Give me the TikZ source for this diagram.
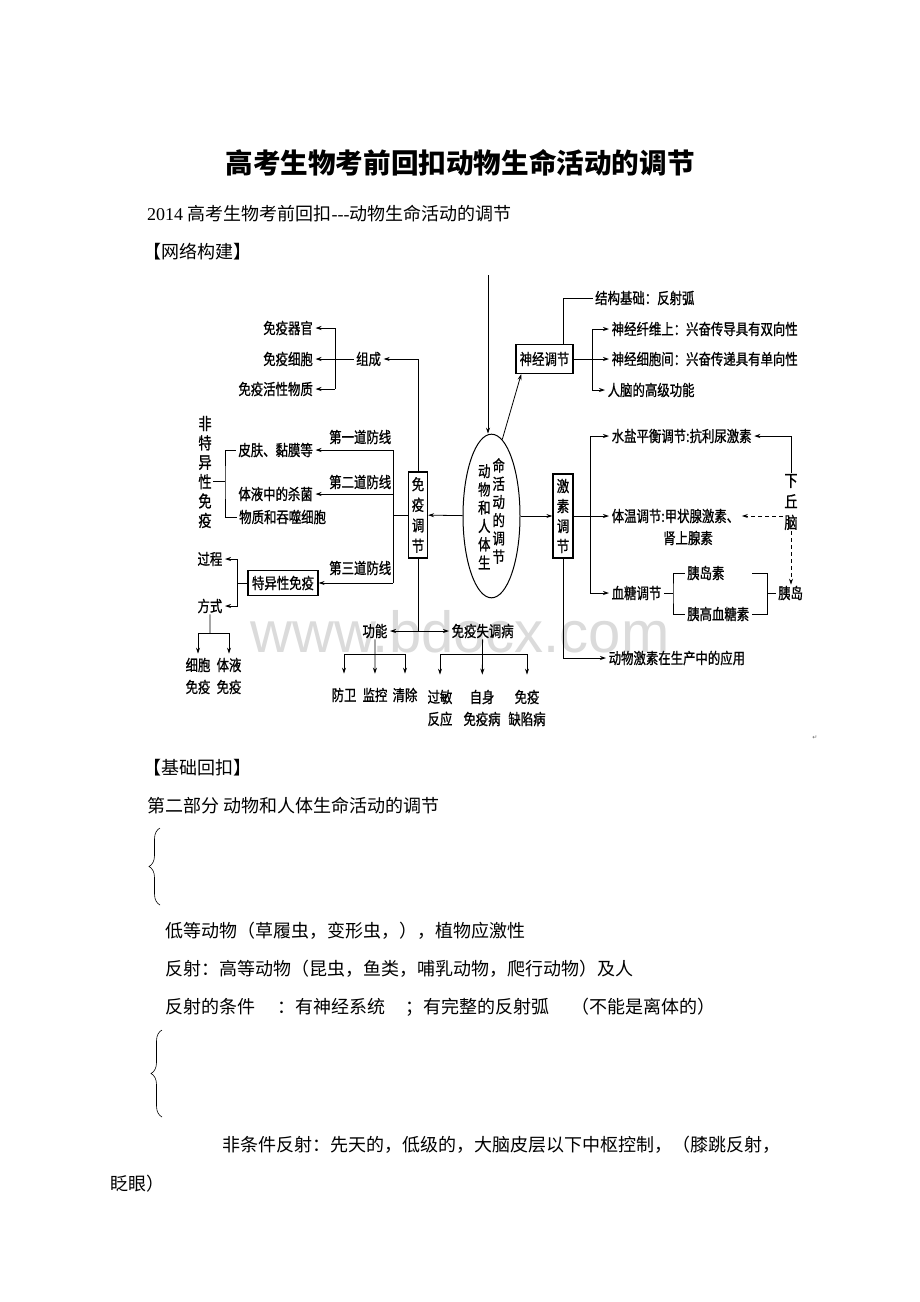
\documentclass[tikz,border=0pt]{standalone}
\usepackage{fontspec}
\setmainfont{Liberation Serif}
\newfontfamily\cjk{Noto Sans CJK SC}
\newfontfamily\dgf[FakeStretch=0.8,FakeBold=0.9]{Noto Sans CJK SC}
\newfontfamily\wmf{Liberation Sans}
\newfontfamily\djv{DejaVu Sans}
\usetikzlibrary{arrows.meta,shapes.geometric,decorations.pathreplacing,calc}
\tikzset{
  dg/.style={font=\dgf\fontsize{15.5}{18}\selectfont, inner xsep=2.5pt, inner ysep=1pt},
  dgm/.style={font=\dgf\fontsize{15.5}{22}\selectfont, inner xsep=2.5pt, inner ysep=1pt, align=center},
  bt/.style={font=\cjk\fontsize{18}{22}\selectfont, inner sep=0pt, anchor=west},
  bx/.style={draw, line width=1.2pt, inner sep=0pt, align=center},
  ln/.style={line width=0.8pt},
  ar/.style={ln, -{Stealth[length=6pt,width=4pt]}},
  da/.style={ar, dash pattern=on 4pt off 3pt},
  brc/.style={decorate, decoration={brace, amplitude=11pt}, line width=0.6pt},
}
\begin{document}
\begin{tikzpicture}[x=1pt,y=-1pt]
\useasboundingbox (0,0) rectangle (920,1302);
\fill[white] (0,0) rectangle (920,1302);

% watermark
\node[font=\wmf\fontsize{58}{60}\selectfont, text=black!14, inner sep=0pt] (wm) at (460,632) {www.bdocx.com};

% page text
\node[font=\cjk\bfseries\fontsize{27.6}{32}\selectfont, inner sep=0pt] (title) at (460,163) {高考生物考前回扣动物生命活动的调节};
\node[bt] (l1) at (147,214) {{\rmfamily 2014 }高考生物考前回扣{\rmfamily -{}-{}-}动物生命活动的调节};
\node[bt] (l2) at (143,252) {【网络构建】};
\node[bt] (l3) at (143,768) {【基础回扣】};
\node[bt] (l4) at (147,806) {第二部分 动物和人体生命活动的调节};
\draw[brc] (160,905) -- (160,828);
\node[bt] (l5) at (165,931) {低等动物（草履虫，变形虫，），植物应激性};
\node[bt] (l6) at (165,969) {反射：高等动物（昆虫，鱼类，哺乳动物，爬行动物）及人};
\node[bt] (l7) at (165,1007) {反射的条件\hspace{22pt}：有神经系统\hspace{20pt}；有完整的反射弧\hspace{22pt}（不能是离体的）};
\draw[brc] (162,1117) -- (162,1030);
\node[bt] (l8) at (222,1145) {非条件反射：先天的，低级的，大脑皮层以下中枢控制，（膝跳反射，};
\node[bt] (l9) at (110,1184) {眨眼）};
\node[font=\djv\fontsize{6}{7}\selectfont, text=black!60, inner sep=0pt] (pm) at (815,738) {↵};

% ---------- centre ----------
\node[draw, ellipse, line width=1pt, minimum width=57pt, minimum height=154pt, inner sep=0pt,
      font=\dgf\fontsize{15.5}{17.8}\selectfont] (ctr) at (491.5,516)
  {\raisebox{-3pt}{\begin{tabular}{@{}c@{}}动\\物\\和\\人\\体\\生\end{tabular}}\hspace{2pt}\raisebox{3pt}{\begin{tabular}{@{}c@{}}命\\活\\动\\的\\调\\节\end{tabular}}};
\coordinate (top) at (488,275);
\draw[ar] (top) -- (top |- ctr.north);

% ---------- immune regulation ----------
\node[bx, minimum width=19pt, minimum height=86pt, font=\dgf\fontsize{15.5}{20.5}\selectfont] (my) at (418,515) {免\\疫\\调\\节};
\draw[ar] (ctr) -- (my);

\node[dg, anchor=east] (qg) at (315.5,328) {免疫器官};
\node[dg, anchor=east] (xb) at (315.5,359) {免疫细胞};
\node[dg, anchor=east] (hx) at (315.5,389) {免疫活性物质};
\node[dg, anchor=west] (zc) at (353.5,359) {组成};
\coordinate (zcb) at (335,359);
\draw[ar] (zc) -- (xb);
\draw[ln] (zcb |- qg) -- (zcb |- hx);
\draw[ar] (zcb |- qg) -- (qg);
\draw[ar] (zcb |- hx) -- (hx);
\draw[ar] (my.north) |- (zc);

% defence lines
\coordinate (dl) at (393,515);
\node[dg, anchor=east] (pf) at (315.5,450) {皮肤、黏膜等};
\node[dg, anchor=east] (tj) at (315.5,494) {体液中的杀菌};
\node[dg, anchor=west] (wz) at (236.5,517) {物质和吞噬细胞};
\node[bx, minimum width=70pt, minimum height=25pt, font=\dgf\fontsize{15.5}{18}\selectfont] (ty) at (283,583) {特异性免疫};
\draw[ln] (my.west) -- (dl);
\draw[ln] (dl |- pf) -- (dl |- ty);
\draw[ar] (dl |- pf) -- (pf);
\draw[ar] (dl |- tj) -- (tj);
\draw[ar] (dl |- ty) -- (ty);
\node[dg, anchor=west] (d1) at (326.5,437) {第一道防线};
\node[dg, anchor=west] (d2) at (326.5,482) {第二道防线};
\node[dg, anchor=west] (d3) at (326.5,568) {第三道防线};

% non-specific
\node[font=\dgf\fontsize{16.5}{19.4}\selectfont, align=center, inner sep=1pt] (fty) at (205,472) {非\\特\\异\\性\\免\\疫};
\coordinate (fb) at (225,481);
\draw[ln] (fty.east |- fb) -- (fb);
\draw[ln] (pf.west) -| (fb) |- (wz.west);

% specific
\node[dg, anchor=east] (gc) at (225,559) {过程};
\node[dg, anchor=east] (fs) at (225,606) {方式};
\coordinate (tb) at (237,583);
\draw[ln] (ty) -- (tb);
\draw[ar] (tb) |- (gc);
\draw[ar] (tb) |- (fs);
\node[dgm, inner ysep=4pt] (xbm) at (198,676) {细胞\\免疫};
\node[dgm, inner ysep=4pt] (tym) at (229,676) {体液\\免疫};
\coordinate (fsb) at (210,633);
\draw[ln] (fs.south) -- (fsb);
\draw[ar] (fsb) -| (xbm.north);
\draw[ar] (fsb) -| (tym.north);

% function / disorders
\coordinate (myb) at (418,631);
\node[dg, anchor=east] (gn) at (390,631) {功能};
\node[dg, anchor=west] (sd) at (449,631) {免疫失调病};
\draw[ln] (my.south) -- (myb);
\draw[ar] (myb) -- (gn);
\draw[ar] (myb) -- (sd);

\node[dg] (fw) at (344,695) {防卫};
\node[dg] (jk) at (375,695) {监控};
\node[dg] (qc) at (405,695) {清除};
\coordinate (gnb) at (375,654);
\draw[ar, shorten >=13pt] (gn) -- (jk);
\draw[ar, shorten >=13pt] (gnb) -| (fw);
\draw[ar, shorten >=13pt] (gnb) -| (qc);

\node[dgm] (gm) at (440,708) {过敏\\反应};
\node[dgm] (zs) at (482,708) {自身\\免疫病};
\node[dgm] (qx) at (527,708) {免疫\\缺陷病};
\coordinate (sdb) at (482,654);
\draw[ar, shorten >=14pt] (sd) -- (zs);
\draw[ar, shorten >=14pt] (sdb) -| (gm);
\draw[ar, shorten >=14pt] (sdb) -| (qx);

% ---------- nervous regulation ----------
\node[bx, minimum width=57pt, minimum height=29pt, font=\dgf\fontsize{15.5}{18}\selectfont] (sj) at (544.5,359) {神经调节};
\draw[ar] (ctr.82) -- ($(sj.south west)!0.1!(sj.south east)$);
\node[dg, anchor=west] (jg) at (592.5,298) {结构基础：反射弧};
\draw[ln] (jg.west) -| ($(sj.north west)!0.82!(sj.north east)$);
\node[dg, anchor=west] (sj1) at (609,329) {神经纤维上：兴奋传导具有双向性};
\node[dg, anchor=west] (sj2) at (609,359) {神经细胞间：兴奋传递具有单向性};
\node[dg, anchor=west] (sj3) at (605,390) {人脑的高级功能};
\coordinate (sjb) at (592,359);
\draw[ar] (sj) -- (sj2);
\draw[ar] (sjb) |- (sj1);
\draw[ar] (sjb) |- (sj3);

% ---------- hormone regulation ----------
\node[bx, minimum width=20pt, minimum height=84pt, font=\dgf\fontsize{15.5}{20}\selectfont] (js) at (563,516) {激\\素\\调\\节};
\draw[ar] (ctr) -- (js);
\node[dg, anchor=west] (ws) at (609,436) {水盐平衡调节:抗利尿激素};
\node[dg, anchor=west] (tw) at (609,516) {体温调节:甲状腺激素、};
\node[dg, anchor=west] (tw2) at (660.5,538) {肾上腺素};
\node[dg, anchor=west] (xt) at (609,593) {血糖调节};
\coordinate (jsb) at (590,516);
\draw[ar] (js) -- (tw);
\draw[ar] (jsb) |- (ws);
\draw[ar] (jsb) |- (xt);

\node[dg, anchor=west] (yds) at (684.5,573) {胰岛素};
\node[dg, anchor=west] (ygx) at (684.5,614) {胰高血糖素};
\coordinate (xtb) at (673,593);
\draw[ln] (xt) -- (xtb);
\draw[ln] (yds.west) -| (xtb) |- (ygx.west);
\coordinate (ydb) at (767,593);
\coordinate (ydl) at (752,593);
\draw[ln] (ydl |- yds) -- (ydb |- yds) -- (ydb |- ygx) -- (ydl |- ygx);
\node[dg, anchor=west] (yd) at (775.5,593) {胰岛};
\draw[ln] (ydb) -- (yd);

\node[font=\dgf\fontsize{16.5}{21}\selectfont, align=center, inner sep=1pt] (xqn) at (791,502) {下\\丘\\脑};
\draw[ar] (xqn.north) |- (ws);
\draw[da] (xqn.west |- tw) -- (tw);
\draw[da] (xqn.south) -- (xqn.south |- yd.north);

\coordinate (jsd) at (563,658);
\node[dg, anchor=west] (yy) at (606,658) {动物激素在生产中的应用};
\draw[ln] (js.south) -- (jsd);
\draw[ar] (jsd) -- (yy);
\end{tikzpicture}
\end{document}
